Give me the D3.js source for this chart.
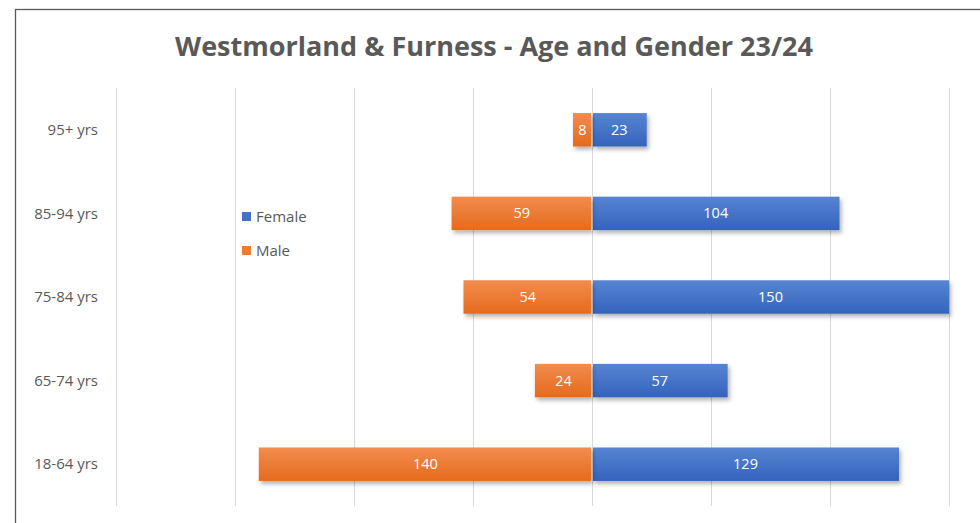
<!DOCTYPE html>
<html lang="en">
  <head>
    <meta charset="UTF-8" />
    <title>Westmorland & Furness - Age and Gender 23/24</title>
    <script src="https://d3js.org/d3.v7.min.js"></script>
    <style>
      body { margin: 0; background: #fff; }
      text { font-family: 'Open Sans', 'Liberation Sans', sans-serif; }
    </style>
  </head>
  <body>
    <div id="chart"></div>
    <script>
      // data, top row first
      const ageGroups = ['95+ yrs', '85-94 yrs', '75-84 yrs', '65-74 yrs', '18-64 yrs']
      const female = [23, 104, 150, 57, 129]
      const male = [8, 59, 54, 24, 140]
      const gridTicks = [-200, -150, -100, -50, 0, 50, 100, 150]

      const width = 980, height = 523
      const plot = { left: 116, right: 949, top: 88, bottom: 506 }

      const svg = d3.select('#chart').append('svg')
        .attr('width', width)
        .attr('height', height)

      const defs = svg.append('defs')
      const grad = (id, top, bottom) => {
        const g = defs.append('linearGradient').attr('id', id)
          .attr('x1', 0).attr('y1', 0).attr('x2', 0).attr('y2', 1)
        g.append('stop').attr('offset', '0%').attr('stop-color', top)
        g.append('stop').attr('offset', '100%').attr('stop-color', bottom)
      }
      grad('gFemale', '#5784d2', '#3463bd')
      grad('gMale', '#f28c4e', '#e56a1c')
      const shadow = defs.append('filter').attr('id', 'shadow')
        .attr('x', '-10%').attr('y', '-20%').attr('width', '130%').attr('height', '160%')
      shadow.append('feDropShadow').attr('dx', 2).attr('dy', 3)
        .attr('stdDeviation', 2).attr('flood-color', '#000').attr('flood-opacity', 0.3)

      // outer frame
      svg.append('rect')
        .attr('x', 15.5).attr('y', 9.5)
        .attr('width', 1000).attr('height', 600)
        .attr('fill', 'none').attr('stroke', '#595959').attr('stroke-width', 1.3)

      svg.append('text')
        .attr('x', 494).attr('y', 56)
        .attr('text-anchor', 'middle')
        .attr('font-size', 27).attr('font-weight', 'bold')
        .attr('fill', '#595959')
        .text('Westmorland & Furness - Age and Gender 23/24')

      const x = d3.scaleLinear().domain([-200, 150]).range([plot.left, plot.right])
      const y = d3.scaleBand().domain(ageGroups).range([plot.top, plot.bottom])
        .paddingInner(0.6).paddingOuter(0.3)

      // gridlines
      svg.append('g').selectAll('line')
        .data(gridTicks)
        .join('line')
        .attr('x1', d => x(d) + 0.5).attr('x2', d => x(d) + 0.5)
        .attr('y1', plot.top).attr('y2', plot.bottom)
        .attr('stroke', '#d9d9d9').attr('stroke-width', 1)

      // category labels
      svg.append('g').selectAll('text')
        .data(ageGroups)
        .join('text')
        .attr('x', 98)
        .attr('y', d => y(d) + y.bandwidth() / 2)
        .attr('dy', '0.35em')
        .attr('text-anchor', 'end')
        .attr('font-size', 15)
        .attr('fill', '#595959')
        .text(d => d)

      const rows = ageGroups.map((g, i) => ({ g, f: female[i], m: male[i] }))

      const bars = svg.append('g')
      // female bars
      bars.selectAll('.f')
        .data(rows)
        .join('rect')
        .attr('class', 'f')
        .attr('x', x(0) + 1)
        .attr('y', d => y(d.g))
        .attr('width', d => x(d.f) - x(0) - 1)
        .attr('height', y.bandwidth())
        .attr('fill', 'url(#gFemale)')
        .attr('filter', 'url(#shadow)')
      // male bars (drawn to the left)
      bars.selectAll('.m')
        .data(rows)
        .join('rect')
        .attr('class', 'm')
        .attr('x', d => x(-d.m))
        .attr('y', d => y(d.g))
        .attr('width', d => x(0) - x(-d.m) - 1)
        .attr('height', y.bandwidth())
        .attr('fill', 'url(#gMale)')
        .attr('filter', 'url(#shadow)')

      // data labels
      const labels = svg.append('g')
        .attr('font-size', 14.5).attr('fill', '#fff').attr('text-anchor', 'middle')
      labels.selectAll('.lf')
        .data(rows)
        .join('text')
        .attr('x', d => (x(0) + x(d.f)) / 2)
        .attr('y', d => y(d.g) + y.bandwidth() / 2)
        .attr('dy', '0.35em')
        .text(d => d.f)
      labels.selectAll('.lm')
        .data(rows)
        .join('text')
        .attr('x', d => (x(0) + x(-d.m)) / 2)
        .attr('y', d => y(d.g) + y.bandwidth() / 2)
        .attr('dy', '0.35em')
        .text(d => d.m)

      // legend
      const legend = svg.append('g').attr('transform', 'translate(242, 212)')
      const legendItems = [
        { name: 'Female', color: '#4472c4' },
        { name: 'Male', color: '#ed7d31' }
      ]
      const li = legend.selectAll('g')
        .data(legendItems)
        .join('g')
        .attr('transform', (d, i) => `translate(0, ${i * 34})`)
      li.append('rect').attr('width', 9).attr('height', 9).attr('fill', d => d.color)
      li.append('text')
        .attr('x', 14).attr('y', 5).attr('dy', '0.35em')
        .attr('font-size', 15).attr('fill', '#595959')
        .text(d => d.name)
    </script>
  </body>
</html>
